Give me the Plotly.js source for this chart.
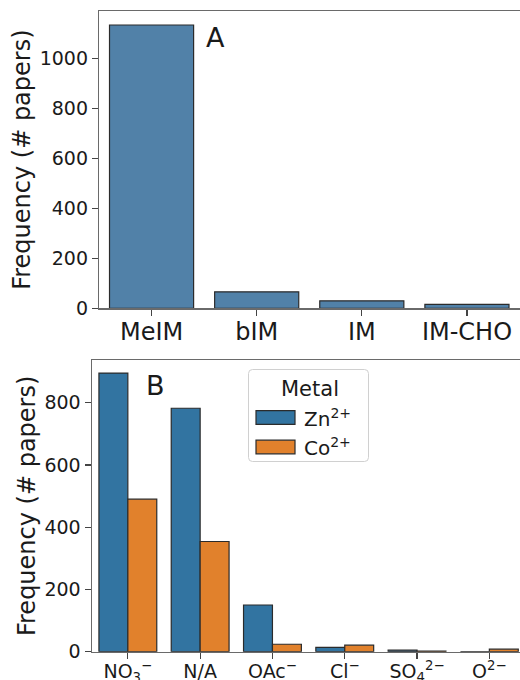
<!DOCTYPE html>
<html><head><meta charset="utf-8">
<script src="https://cdn.plot.ly/plotly-3.0.1.min.js"></script>
<style>html,body{margin:0;padding:0;overflow:hidden;background:#fff}#chart{width:530px;height:680px}</style>
</head><body><div id="chart"></div>
<script>
// ---- data ----
const linkers = ['MeIM', 'bIM', 'IM', 'IM-CHO'];
const linkerCounts = [1133, 66, 30, 16];

const anionKeys = ['NO3', 'NA', 'OAc', 'Cl', 'SO4', 'O2'];
const anionLabels = ['NO<sub>3</sub><sup>−</sup>', 'N/A', 'OAc<sup>−</sup>', 'Cl<sup>−</sup>', 'SO<sub>4</sub><sup>2−</sup>', 'O<sup>2−</sup>'];
const znCounts = [895, 782, 150, 14, 5, 0];
const coCounts = [490, 354, 24, 21, 2, 8];
const metalNames = ['Zn<sup>2+</sup>', 'Co<sup>2+</sup>'];
const metalColors = ['#3274a1', '#e1812c'];
const legendTitle = 'Metal';

const topYTicks = [0, 200, 400, 600, 800, 1000];
const bottomYTicks = [0, 200, 400, 600, 800];
const yTitle = 'Frequency (# papers)';
const panelLabels = ['A', 'B'];

// ---- layout helpers ----
const W = 530, H = 680;
const px = x => x / W;
const py = y => 1 - y / H;
const FONT = 'DejaVu Sans, sans-serif';
const TXT = '#1a1a1a';

const axisCommon = {
  showline: true, mirror: true, linecolor: '#6a6a6a', linewidth: 1.2,
  showgrid: false, zeroline: false, ticks: 'outside', ticklen: 6, tickwidth: 1.2,
  tickcolor: '#444', automargin: false, fixedrange: true
};

const traces = [
  {
    type: 'bar', x: linkers, y: linkerCounts, xaxis: 'x', yaxis: 'y',
    marker: {color: '#5181a8', line: {color: '#2b2b2b', width: 1.2}},
    showlegend: false, hoverinfo: 'x+y'
  },
  {
    type: 'bar', x: anionKeys, y: znCounts, xaxis: 'x2', yaxis: 'y2', name: metalNames[0],
    marker: {color: metalColors[0], line: {color: '#2b2b2b', width: 1.2}}, showlegend: false
  },
  {
    type: 'bar', x: anionKeys, y: coCounts, xaxis: 'x2', yaxis: 'y2', name: metalNames[1],
    marker: {color: metalColors[1], line: {color: '#2b2b2b', width: 1.2}}, showlegend: false
  }
];

// custom legend (matplotlib-like box with wide patches)
const lgL = 248.5, lgR = 368.5, lgT = 369.5, lgB = 461.5, r = 4;
const lgPath = `M${px(lgL + r)},${py(lgT)} L${px(lgR - r)},${py(lgT)} Q${px(lgR)},${py(lgT)} ${px(lgR)},${py(lgT + r)} ` +
  `L${px(lgR)},${py(lgB - r)} Q${px(lgR)},${py(lgB)} ${px(lgR - r)},${py(lgB)} L${px(lgL + r)},${py(lgB)} ` +
  `Q${px(lgL)},${py(lgB)} ${px(lgL)},${py(lgB - r)} L${px(lgL)},${py(lgT + r)} Q${px(lgL)},${py(lgT)} ${px(lgL + r)},${py(lgT)} Z`;

const shapes = [
  {type: 'path', xref: 'paper', yref: 'paper', path: lgPath,
   fillcolor: 'rgba(255,255,255,0.85)', line: {color: '#d0d0d0', width: 1}, layer: 'above'}
];
const annotations = [
  {xref: 'paper', yref: 'paper', x: px(204), y: py(37), xanchor: 'left', yanchor: 'middle',
   text: panelLabels[0], showarrow: false, font: {family: FONT, size: 27, color: TXT}},
  {xref: 'paper', yref: 'paper', x: px(144), y: py(385), xanchor: 'left', yanchor: 'middle',
   text: panelLabels[1], showarrow: false, font: {family: FONT, size: 27, color: TXT}},
  {xref: 'paper', yref: 'paper', x: px(309.5), y: py(389), xanchor: 'center', yanchor: 'middle',
   text: legendTitle, showarrow: false, font: {family: FONT, size: 21, color: TXT}}
];
const entryY = [417.5, 447];
metalNames.forEach((nm, i) => {
  shapes.push({type: 'rect', xref: 'paper', yref: 'paper', layer: 'above',
    x0: px(256), x1: px(295), y0: py(entryY[i] - 6.8), y1: py(entryY[i] + 6.8),
    fillcolor: metalColors[i], line: {color: '#2b2b2b', width: 1.2}});
  annotations.push({xref: 'paper', yref: 'paper', x: px(302), y: py(entryY[i]), xanchor: 'left', yanchor: 'middle',
    text: nm, showarrow: false, font: {family: FONT, size: 20, color: TXT}});
});

const layout = {
  width: W, height: H,
  margin: {l: 0, r: 0, t: 0, b: 0},
  paper_bgcolor: '#fff', plot_bgcolor: '#fff',
  font: {family: FONT, color: TXT},
  bargap: 0.2, bargroupgap: 0, barmode: 'group',
  showlegend: false,
  xaxis: Object.assign({}, axisCommon, {
    domain: [px(99), px(519.5)], anchor: 'y', type: 'category',
    range: [-0.5, linkers.length - 0.5], tickfont: {family: FONT, size: 24, color: TXT},
    ticklabelstandoff: -4
  }),
  yaxis: Object.assign({}, axisCommon, {
    domain: [py(308.3), py(11)], anchor: 'x', range: [0, 1189],
    tickvals: topYTicks, ticktext: topYTicks.map(String),
    tickfont: {family: FONT, size: 19, color: TXT},
    title: {text: yTitle, font: {family: FONT, size: 24, color: TXT}, standoff: 2}
  }),
  xaxis2: Object.assign({}, axisCommon, {
    domain: [px(91.7), px(525.5)], anchor: 'y2', type: 'category',
    range: [-0.5, anionKeys.length - 0.5],
    tickvals: anionKeys, ticktext: anionLabels,
    tickfont: {family: FONT, size: 19, color: TXT},
    ticklabelstandoff: -4
  }),
  yaxis2: Object.assign({}, axisCommon, {
    domain: [py(651.7), py(360)], anchor: 'x2', range: [0, 937],
    tickvals: bottomYTicks, ticktext: bottomYTicks.map(String),
    tickfont: {family: FONT, size: 19, color: TXT},
    title: {text: yTitle, font: {family: FONT, size: 24, color: TXT}, standoff: 2}
  }),
  shapes: shapes,
  annotations: annotations
};

Plotly.newPlot('chart', traces, layout, {displayModeBar: false, staticPlot: true});
</script>
</body></html>
